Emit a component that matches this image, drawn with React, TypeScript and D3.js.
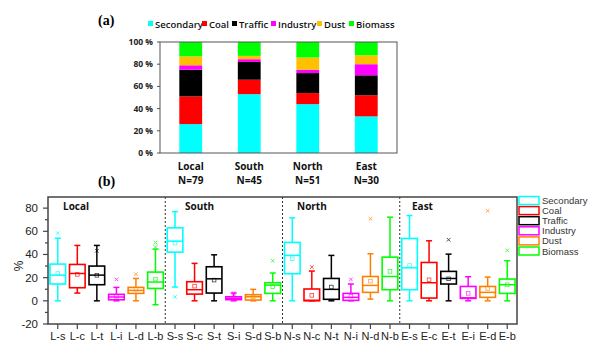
import React from "react";
import * as d3 from "d3";

const regions = ["Local", "South", "North", "East"];
const counts = ["N=79", "N=45", "N=51", "N=30"];
const sources = ["Secondary", "Coal", "Traffic", "Industry", "Dust", "Biomass"];
const secondary = [26, 53, 44, 33];
const coal = [25, 13, 10, 19];
const traffic = [24, 16, 18, 18];
const industry = [4, 2.5, 3, 10];
const dust = [8, 3, 11, 8];
const biomass = [13, 12.5, 14, 12];
const stackColors = ["#00FFFF", "#FF0000", "#000000", "#FF00FF", "#FFC000", "#00FF00"];
const pctTicks = [0, 20, 40, 60, 80, 100];

const boxLabels = [
  "L-s", "L-c", "L-t", "L-i", "L-d", "L-b",
  "S-s", "S-c", "S-t", "S-i", "S-d", "S-b",
  "N-s", "N-c", "N-t", "N-i", "N-d", "N-b",
  "E-s", "E-c", "E-t", "E-i", "E-d", "E-b",
];
const whiskerLow = [0, 6.7, 0, 0, 0, -3.4, 11.9, 0, 0, 0, 0, 0, 0, 0, 0, 0, 1.5, 0, 0, 0, 0, 0, 0, 0];
const q1 = [14.5, 11.3, 13.9, 0.9, 6.4, 10.7, 42, 5.8, 6.7, 1, 0.7, 6.4, 23.4, 0, 1.3, 0.4, 7.3, 9.6, 9.6, 2.4, 14.5, 2.1, 3, 6.4];
const median = [22.2, 23.6, 22.2, 3.3, 9, 16.2, 51.5, 9.6, 19, 2.1, 3.5, 13.6, 39.2, 0.5, 9.9, 3, 13.3, 21, 28.5, 15.6, 19.3, 2.6, 7.3, 13.9];
const q3 = [31.7, 31.4, 30, 5.6, 11.6, 24.8, 63, 16.5, 29.4, 3.5, 5.3, 15.6, 50.4, 10.2, 19.3, 6.4, 21, 37.7, 53.8, 33.1, 25.4, 12.4, 12.4, 18.8];
const whiskerHigh = [54, 47.8, 47.8, 11.6, 19.3, 44.6, 77, 32.3, 39.7, 6.7, 9.9, 24, 71.6, 25.7, 39.2, 14.5, 40.6, 72.2, 73.6, 51.8, 40.3, 20.8, 20.5, 34.6];
const meanVals = [23.6, 22.8, 22, 4, 10, 18.8, 49.8, 12.7, 17.9, 2.5, 3.5, 12.2, 36.3, 4.7, 11.9, 4.1, 17, 25.4, 30.5, 18.2, 19, 6.4, 10.7, 13.9];
const extremes = [[58.4], [], [43.2], [18.5], [23], [46.4, 50.3], [3.3], [], [], [6.7], [], [34.6], [], [29.1], [], [18.5], [70.8], [], [], [], [52.7], [], [77.7], [43.5]];
const boxColors = ["#00FFFF", "#FF0000", "#000000", "#FF00FF", "#FF8000", "#00FF00"];
const groupNames = ["Local", "South", "North", "East"];
const boxTicks = [-20, 0, 20, 40, 60, 80];
const boxMinorTicks = [-10, 10, 30, 50, 70];

export default function App() {
  // ---- chart (a)
  const aL = 160, aR = 397, aT = 42, aB = 153;
  const xa = d3.scaleBand().domain(regions).range([aL, aR]).paddingInner(0.61).paddingOuter(0.33);
  const ya = d3.scaleLinear().domain([0, 100]).range([aB, aT]);
  const seriesVals = [secondary, coal, traffic, industry, dust, biomass];
  const table = regions.map((r, i) => {
    const o: any = { region: r };
    sources.forEach((s, j) => (o[s] = seriesVals[j][i]));
    return o;
  });
  const stacked = d3.stack().keys(sources)(table);
  const legendA = [148, 202, 232, 271, 317, 349];

  // ---- chart (b)
  const bL = 48, bR = 517, bT = 197, bB = 324;
  const xb = d3.scaleBand().domain(boxLabels).range([bL, bR]);
  const yb = d3.scaleLinear().domain([-20, 89.6]).range([bB, bT]);
  const bw = xb.bandwidth() * 0.8;
  const groupLabelX = [63, 185, 297, 412];

  return (
    <svg width={600} height={355} style={{ position: "absolute", left: 0, top: 0, background: "#fff" }}>
      {/* (a) */}
      <text x={98} y={25} fontFamily="'Liberation Serif', serif" fontWeight="bold" fontSize={14}>(a)</text>
      {sources.map((s, i) => (
        <g key={s}>
          <rect x={legendA[i]} y={21} width={5} height={5} fill={stackColors[i]} />
          <text x={legendA[i] + 7} y={27.5} fontFamily="'Open Sans', sans-serif" fontWeight="600" fontSize={9.5} fill="#111">{s}</text>
        </g>
      ))}
      {stacked.map((layer, j) => (
        <g key={layer.key}>
          {layer.map((d: any, i: number) => (
            <rect key={i} x={xa(regions[i])} y={ya(d[1])} width={xa.bandwidth()} height={ya(d[0]) - ya(d[1])} fill={stackColors[j]} />
          ))}
        </g>
      ))}
      <rect x={aL} y={aT} width={aR - aL} height={aB - aT} fill="none" stroke="#555" strokeWidth={1} />
      {pctTicks.map((t) => (
        <g key={t}>
          <line x1={aL - 3} x2={aL} y1={ya(t)} y2={ya(t)} stroke="#555" />
          <text x={153} y={ya(t) + 3} textAnchor="end" fontFamily="'Open Sans', sans-serif" fontWeight="bold" fontSize={8.5} fill="#222">{t} %</text>
        </g>
      ))}
      {regions.map((r, i) => (
        <g key={r}>
          <text x={xa(r)! + xa.bandwidth() / 2} y={170} textAnchor="middle" fontFamily="'Open Sans', sans-serif" fontWeight="bold" fontSize={10} fill="#111">{r}</text>
          <text x={xa(r)! + xa.bandwidth() / 2} y={183.5} textAnchor="middle" fontFamily="'Open Sans', sans-serif" fontWeight="bold" fontSize={10} fill="#111">{counts[i]}</text>
        </g>
      ))}

      {/* (b) */}
      <text x={98} y={186} fontFamily="'Liberation Serif', serif" fontWeight="bold" fontSize={14}>(b)</text>
      <text transform={`translate(23,266) rotate(-90)`} textAnchor="middle" fontFamily="'Liberation Sans', Arial, sans-serif" fontSize={12} fill="#222">%</text>
      {boxTicks.map((t) => (
        <g key={t}>
          <line x1={bL - 5} x2={bL} y1={yb(t)} y2={yb(t)} stroke="#444" strokeWidth={1.2} />
          <text x={38} y={yb(t) + 4} textAnchor="end" fontFamily="'Liberation Sans', Arial, sans-serif" fontSize={11.5} fill="#222">{t}</text>
        </g>
      ))}
      {boxMinorTicks.map((t) => (
        <line key={t} x1={bL - 3} x2={bL} y1={yb(t)} y2={yb(t)} stroke="#444" strokeWidth={1.2} />
      ))}
      {[6, 12, 18].map((k) => (
        <line key={k} x1={xb(boxLabels[k])!} x2={xb(boxLabels[k])!} y1={bT} y2={bB} stroke="#333" strokeWidth={1} strokeDasharray="2,2" />
      ))}
      {groupNames.map((g, i) => (
        <text key={g} x={groupLabelX[i]} y={210} fontFamily="'Open Sans', sans-serif" fontWeight="bold" fontSize={10} fill="#111">{g}</text>
      ))}
      {boxLabels.map((lab, i) => {
        const c = boxColors[i % 6];
        const cx = xb(lab)! + xb.bandwidth() / 2;
        const cap = 3;
        return (
          <g key={lab}>
            <line x1={cx} x2={cx} y1={yb(whiskerHigh[i])} y2={yb(q3[i])} stroke={c} strokeWidth={1.5} />
            <line x1={cx} x2={cx} y1={yb(q1[i])} y2={yb(whiskerLow[i])} stroke={c} strokeWidth={1.5} />
            <line x1={cx - cap} x2={cx + cap} y1={yb(whiskerHigh[i])} y2={yb(whiskerHigh[i])} stroke={c} strokeWidth={1.5} />
            <line x1={cx - cap} x2={cx + cap} y1={yb(whiskerLow[i])} y2={yb(whiskerLow[i])} stroke={c} strokeWidth={1.5} />
            <rect x={cx - bw / 2} y={yb(q3[i])} width={bw} height={Math.max(0.5, yb(q1[i]) - yb(q3[i]))} fill="none" stroke={c} strokeWidth={1.6} />
            <line x1={cx - bw / 2} x2={cx + bw / 2} y1={yb(median[i])} y2={yb(median[i])} stroke={c} strokeWidth={1.5} />
            <rect x={cx - 1.8} y={yb(meanVals[i]) - 1.8} width={3.6} height={3.6} fill="none" stroke={c} strokeWidth={0.8} opacity={0.75} />
            {extremes[i].map((v, k) => (
              <path key={k} d={`M${cx - 1.8},${yb(v) - 1.8}L${cx + 1.8},${yb(v) + 1.8}M${cx - 1.8},${yb(v) + 1.8}L${cx + 1.8},${yb(v) - 1.8}`} stroke={c} strokeWidth={1} opacity={0.7} />
            ))}
            <line x1={cx} x2={cx} y1={bB} y2={bB + 5} stroke="#444" strokeWidth={1.2} />
            <text x={cx} y={340} textAnchor="middle" fontFamily="'Liberation Sans', Arial, sans-serif" fontSize={11} fill="#222">{lab}</text>
          </g>
        );
      })}
      <rect x={bL} y={bT} width={bR - bL} height={bB - bT} fill="none" stroke="#444" strokeWidth={1.5} />
      {sources.map((s, i) => (
        <g key={s}>
          <rect x={519} y={196.5 + i * 10.1} width={20} height={8} fill="#fff" stroke={boxColors[i]} strokeWidth={1.5} />
          <text x={542} y={204 + i * 10.1} fontFamily="'Liberation Sans', Arial, sans-serif" fontSize={9.5} fill="#333">{s}</text>
        </g>
      ))}
    </svg>
  );
}
